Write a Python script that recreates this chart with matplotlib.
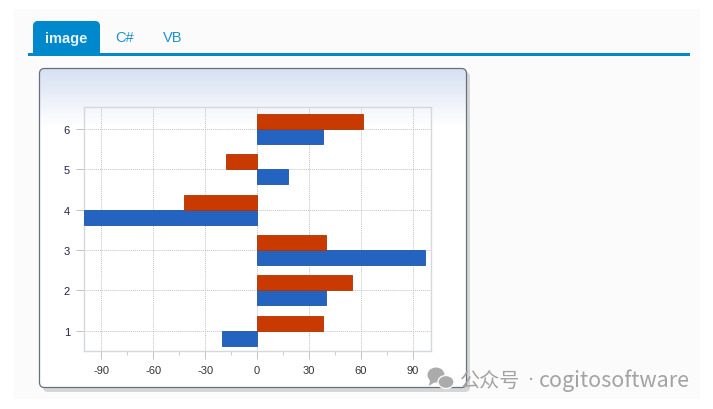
#!/usr/bin/env python3
"""Horizontal clustered bars inside a tabbed web page panel."""

import numpy as np
import matplotlib
matplotlib.use("Agg")
import matplotlib.pyplot as plt
from matplotlib.patches import FancyBboxPatch, Ellipse, Polygon, Rectangle
from matplotlib.ticker import MultipleLocator

plt.rcParams["font.family"] = ["Liberation Sans", "DejaVu Sans"]
plt.rcParams["axes.unicode_minus"] = False

W, H = 713, 410

categories = [1, 2, 3, 4, 5, 6]
blue_values = [-20, 40, 97, -100, 18, 38]
red_values = [38, 55, 40, -42, -18, 61]
x_ticks = [-90, -60, -30, 0, 30, 60, 90]
tab_labels = ["C#", "VB"]

BLUE = "#2464c0"
RED = "#c93a00"
TAB_BLUE = "#0088cc"


def draw_page(bg):
    """Page background, tabs and the rounded panel, in pixel coordinates."""
    bg.add_patch(Rectangle((14, 10), 686, 390, fc="#fbfbfb", ec="none"))

    # tabs
    bg.add_patch(FancyBboxPatch((33, 22), 67, 20, boxstyle="round,pad=0,rounding_size=5",
                                fc=TAB_BLUE, ec="none"))
    bg.add_patch(Rectangle((33, 30), 67, 25, fc=TAB_BLUE, ec="none"))
    bg.add_patch(Rectangle((28, 54), 662, 3, fc=TAB_BLUE, ec="none", zorder=3))
    bg.text(66.5, 38.5, "image", color="#e8f4fb", fontsize=10.5, ha="center", va="center",
            fontweight="bold", zorder=4)
    bg.text(125, 38.5, tab_labels[0], color="#1a94d2", fontsize=10.5, ha="center", va="center")
    bg.text(173, 38.5, tab_labels[1], color="#1a94d2", fontsize=10.5, ha="center", va="center")

    # panel shadow, then the panel itself
    bg.add_patch(FancyBboxPatch((43, 73), 427, 320, boxstyle="round,pad=0,rounding_size=5",
                                fc="#d6d6d6", ec="none"))
    panel = FancyBboxPatch((39.5, 69.5), 427, 319, boxstyle="round,pad=0,rounding_size=5",
                           fc="white", ec="none", zorder=2)
    bg.add_patch(panel)
    grad = np.linspace(0, 1, 64).reshape(-1, 1)
    top = np.array([0.84, 0.88, 0.95])
    img = top + (1 - top) * grad[..., None]
    im = bg.imshow(img, extent=(39.5, 466.5, 128, 69.5), aspect="auto", zorder=2.5)
    im.set_clip_path(panel)
    # redraw the outline above the gradient
    bg.add_patch(FancyBboxPatch((39.5, 69.5), 427, 319, boxstyle="round,pad=0,rounding_size=5",
                                fc="none", ec="#66717d", lw=0.9, zorder=2.8))


def draw_watermark(bg):
    bg.add_patch(Ellipse((436, 376), 17, 15, fc="#ababab", ec="none", zorder=6))
    bg.add_patch(Polygon([(430, 381), (429, 387), (435, 383)], fc="#ababab", ec="none", zorder=6))
    bg.add_patch(Ellipse((446, 383), 16, 13, fc="#ababab", ec="#fbfbfb", lw=1, zorder=6))
    bg.text(460, 381, "公众号", color="#a3a3a3", fontsize=14.5, ha="left", va="center", zorder=6,
            family=["Noto Sans CJK SC", "DejaVu Sans"])
    bg.text(530.5, 381, "·", color="#a3a3a3", fontsize=14, ha="center", va="center", zorder=6,
            family="DejaVu Sans")
    bg.text(690, 381, "cogitosoftware", color="#a3a3a3", fontsize=15.5, ha="right", va="center",
            zorder=6, family=["Noto Sans CJK SC", "DejaVu Sans"])


def draw_chart(ax):
    y = np.array(categories)
    bar_h = 0.37
    ax.barh(y - bar_h / 2, blue_values, height=bar_h, color=BLUE, edgecolor="#1f56a6",
            linewidth=0.6, zorder=3)
    ax.barh(y + bar_h / 2, red_values, height=bar_h, color=RED, edgecolor="#b03300",
            linewidth=0.6, zorder=3)

    ax.set_xlim(-100, 100.5)
    ax.set_ylim(0.5, 6.54)
    ax.set_xticks(x_ticks)
    ax.xaxis.set_minor_locator(MultipleLocator(15))
    ax.set_yticks(categories)
    ax.grid(True, color="#c2c2c2", linestyle=(0, (1, 1)), linewidth=0.7, zorder=1)
    ax.set_axisbelow(True)
    ax.patch.set_alpha(0)
    for spine in ax.spines.values():
        spine.set_color("#d4d8dc")
        spine.set_linewidth(1.0)
    ax.tick_params(axis="x", which="major", length=6, width=0.7, color="#c2c2c2",
                   labelsize=8, labelcolor="#333333", pad=4)
    ax.tick_params(axis="x", which="minor", length=3, width=0.7, color="#cccccc")
    ax.tick_params(axis="y", length=6, width=0.7, color="#c2c2c2", labelsize=8,
                   labelcolor="#22224a", pad=4)


def main():
    fig = plt.figure(figsize=(W / 100, H / 100), dpi=100, facecolor="white")

    bg = fig.add_axes([0, 0, 1, 1])
    bg.set_xlim(0, W)
    bg.set_ylim(H, 0)
    bg.axis("off")
    draw_page(bg)
    draw_watermark(bg)
    bg.set_xlim(0, W)
    bg.set_ylim(H, 0)
    bg.set_aspect("auto")

    ax = fig.add_axes([84 / W, 1 - 352 / H, (431 - 84) / W, (352 - 108) / H])
    draw_chart(ax)

    fig.savefig("out.png", dpi=100)
    plt.close(fig)


if __name__ == "__main__":
    main()
